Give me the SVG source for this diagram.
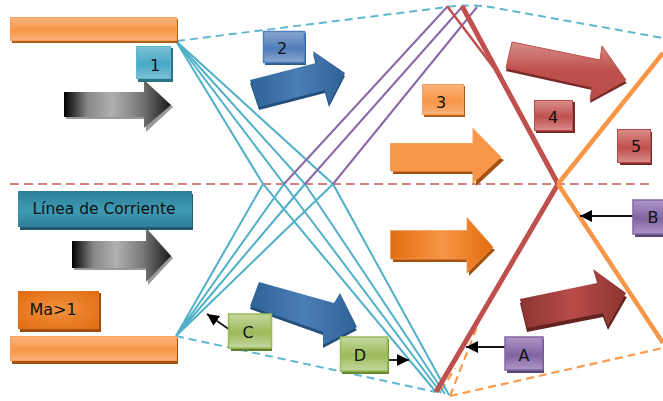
<svg xmlns="http://www.w3.org/2000/svg" width="663" height="401" viewBox="0 0 663 401">
<style>
text{font-family:"DejaVu Sans",sans-serif;fill:#111;text-anchor:middle;font-size:16px}
.teal{fill:none;stroke:#4fb0c8;stroke-width:2}
.pur{fill:none;stroke:#8a68a8;stroke-width:2}
.tdash{fill:none;stroke:#5fb8d0;stroke-width:2;stroke-dasharray:8 5}
.odash{fill:none;stroke:#f89a50;stroke-width:2.200;stroke-dasharray:8 5}
.rdash{fill:none;stroke:#d98080;stroke-width:2;stroke-dasharray:9 5}
.conn{fill:none;stroke:#111;stroke-width:1.800;marker-end:url(#ah)}
</style>
<defs>
<marker id="ah" markerUnits="userSpaceOnUse" markerWidth="13" markerHeight="13" refX="12" refY="6" orient="auto"><path d="M0 0L12 6L0 12Z" fill="#000"/></marker>
<linearGradient id="gO" x1="0" y1="0" x2="0" y2="1"><stop offset="0" stop-color="#fbb47e"/><stop offset=".55" stop-color="#f79646"/><stop offset="1" stop-color="#fab27c"/></linearGradient>
<linearGradient id="gT" x1="0" y1="0" x2="0" y2="1"><stop offset="0" stop-color="#7cc2d6"/><stop offset=".55" stop-color="#46a8c4"/><stop offset="1" stop-color="#7cc2d6"/></linearGradient>
<linearGradient id="gB" x1="0" y1="0" x2="0" y2="1"><stop offset="0" stop-color="#8aa8d0"/><stop offset=".55" stop-color="#4f7db8"/><stop offset="1" stop-color="#8aa8d0"/></linearGradient>
<linearGradient id="gR" x1="0" y1="0" x2="0" y2="1"><stop offset="0" stop-color="#d88e8c"/><stop offset=".55" stop-color="#c0504d"/><stop offset="1" stop-color="#d88e8c"/></linearGradient>
<linearGradient id="gRa" x1="0" y1="0" x2="0" y2="1"><stop offset="0" stop-color="#d88e8c"/><stop offset=".5" stop-color="#be4f4c"/><stop offset="1" stop-color="#b84c49"/></linearGradient>
<linearGradient id="gP" x1="0" y1="0" x2="0" y2="1"><stop offset="0" stop-color="#ae98c6"/><stop offset=".55" stop-color="#8064a2"/><stop offset="1" stop-color="#ae98c6"/></linearGradient>
<linearGradient id="gG" x1="0" y1="0" x2="0" y2="1"><stop offset="0" stop-color="#c4d8a0"/><stop offset=".55" stop-color="#9bbb59"/><stop offset="1" stop-color="#c4d8a0"/></linearGradient>
<linearGradient id="gL" x1="0" y1="0" x2="0" y2="1"><stop offset="0" stop-color="#2e7f98"/><stop offset=".55" stop-color="#3f9ab4"/><stop offset="1" stop-color="#2e7f98"/></linearGradient>
<radialGradient id="gM" cx=".5" cy=".5" r=".7"><stop offset="0" stop-color="#f0913f"/><stop offset="1" stop-color="#e26c10"/></radialGradient>
<linearGradient id="aK"><stop offset="0" stop-color="#000"/><stop offset=".22" stop-color="#888"/><stop offset=".45" stop-color="#b0b0b0"/><stop offset=".72" stop-color="#777"/><stop offset="1" stop-color="#1a1a1a"/></linearGradient>
<linearGradient id="aB"><stop offset="0" stop-color="#2f6296"/><stop offset=".5" stop-color="#4a7eb6"/><stop offset="1" stop-color="#2f6296"/></linearGradient>
<linearGradient id="aO"><stop offset="0" stop-color="#e26c0e"/><stop offset=".5" stop-color="#f79646"/><stop offset="1" stop-color="#e26c0e"/></linearGradient>
<linearGradient id="aD"><stop offset="0" stop-color="#8b3431"/><stop offset=".5" stop-color="#b84c49"/><stop offset="1" stop-color="#8b3431"/></linearGradient>
</defs>

<g id="connectors">
<path class="rdash" d="M10 184H650"/>
<path class="tdash" d="M177 41L447 7Q470 4 490 7L663 38"/>
<path class="tdash" d="M176 336L436 392"/>
<path class="odash" d="M450 396L663 348"/>
<path class="odash" d="M450 396L477 327"/>
<path class="odash" d="M441 391L455 368"/>
<path class="teal" d="M176 41L263 184L436 392"/>
<path class="teal" d="M176 41L284 184L441 393"/>
<path class="teal" d="M176 41L305 184L445 394"/>
<path class="teal" d="M176 41L333 184L449 395"/>
<path class="teal" d="M176 336L263 184M176 336L284 184M176 336L305 184M176 336L333 184"/>
<path class="pur" d="M284 184L447 7M305 184L462 7M333 184L477 7"/>
<path fill="none" stroke="#c0504d" stroke-width="2.500" d="M447 6L497 72"/>
<path fill="none" stroke="#c0504d" stroke-width="5" d="M462 6L558 184L436 392"/>
<path fill="none" stroke="#f79646" stroke-width="4.500" d="M558 184L663 53M558 184L663 343"/>
<path class="conn" d="M230 330L207 314"/>
<path class="conn" d="M388 360H409"/>
<path class="conn" d="M505 347H466"/>
<path class="conn" d="M633 216H580"/>
</g>

<g id="bar-top"><rect x="12" y="19" width="166" height="24" fill="#b35c14"/><rect x="10.500" y="17.500" width="166" height="23" fill="url(#gO)" stroke="#f8a25c"/></g>
<g id="bar-bottom"><rect x="12" y="338" width="166" height="26" fill="#a8500f"/><rect x="10.500" y="336.500" width="166" height="24" fill="url(#gO)" stroke="#f8a25c"/></g>

<g id="arrow-grey-1"><path d="M66 94H146V82L173 107L146 132V119H66Z" fill="#999"/><path d="M64 92H144V80L171 105L144 128V117H64Z" fill="url(#aK)"/></g>
<g id="arrow-grey-2"><path d="M74 243H148V230L173 258L148 285V270H74Z" fill="#999"/><path d="M72 241H146V228L171 256L146 282V268H72Z" fill="url(#aK)"/></g>
<g id="arrow-blue-1"><path d="M250 83L316 66L313 54L345 76L329 107L325 93L259 110Z" fill="#244f7c"/><path d="M250 80L316 63L313 51L345 73L329 104L325 90L259 107Z" fill="url(#aB)"/></g>
<g id="arrow-blue-2"><path d="M250 309L323 335V348L357 330L334 306L259 285Z" fill="#244f7c"/><path d="M259 282L334 303L340 293L357 327L323 345L323 332L250 306Z" fill="url(#aB)"/></g>
<g id="arrow-orange-1"><path d="M393 174H476V186L504 160L476 146H393Z" fill="#a8500f"/><path d="M390.500 143.500H473V128.500L501 157L473 183V171H390.500Z" fill="#f79646" stroke="#f8a25c"/></g>
<g id="arrow-orange-2"><path d="M393 262H469V276L495 250L469 233H393Z" fill="#a8500f"/><path d="M390.500 230.500H467V217.500L493 247L467 273V259H390.500Z" fill="url(#aO)" stroke="#f0a060" stroke-width=".8"/></g>
<g id="arrow-red-1"><path d="M506 71L592 90L590 103L627 83L600 60L512 45Z" fill="#7a2a28"/><path d="M512 42L600 60L602 46L626 80L590 100L592 87L506 68Z" fill="url(#gRa)" stroke="#c0504d"/></g>
<g id="arrow-red-2"><path d="M527 332L603 317L608 330L627 297L597 287L520 303Z" fill="#652320"/><path d="M520 299L597 283L593 269L626 293L608 326L603 313L527 328Z" fill="url(#aD)"/></g>

<g id="node-1"><rect x="138" y="48" width="35" height="34" fill="#2c7385"/><rect x="136.500" y="46.500" width="34" height="32" fill="url(#gT)" stroke="#5cb8d0"/><text x="155" y="71">1</text></g>
<g id="node-2"><rect x="265" y="33" width="41" height="32" fill="#2f5a8c"/><rect x="263.500" y="31.500" width="41" height="31" fill="url(#gB)" stroke="#4f81bd" stroke-width="1.500"/><text x="282" y="54">2</text></g>
<g id="node-3"><rect x="424" y="86" width="41" height="31" fill="#b35c14"/><rect x="422.500" y="84.500" width="41" height="30" fill="url(#gO)" stroke="#f8a25c"/><text x="441" y="108">3</text></g>
<g id="node-4"><rect x="536" y="102" width="39" height="31" fill="#7a2a28"/><rect x="534.500" y="100.500" width="38" height="30" fill="url(#gR)" stroke="#b84c49"/><text x="553" y="123">4</text></g>
<g id="node-5"><rect x="620" y="132" width="32" height="33" fill="#7a2a28"/><rect x="617.500" y="129.500" width="33" height="33" fill="url(#gR)" stroke="#b84c49"/><text x="636" y="152">5</text></g>
<g id="node-B"><rect x="635" y="202" width="28" height="35" fill="#5a4478"/><rect x="633" y="200" width="32" height="34" fill="url(#gP)" stroke="#8064a2" stroke-width="1.500"/><text x="653" y="223">B</text></g>
<g id="node-A"><rect x="507" y="339" width="37" height="34" fill="#5a4478"/><rect x="505" y="337" width="38" height="33" fill="url(#gP)" stroke="#8064a2" stroke-width="1.500"/><text x="524" y="361">A</text></g>
<g id="node-D"><rect x="342" y="339" width="47" height="35" fill="#6a8a30"/><rect x="340.500" y="337" width="47" height="34" fill="url(#gG)" stroke="#9bbb59" stroke-width="1.500"/><text x="360" y="361">D</text></g>
<g id="node-C"><rect x="231" y="316" width="41" height="35" fill="#5f7f2a"/><rect x="228.500" y="314" width="43" height="34" fill="url(#gG)" stroke="#9bbb59" stroke-width="1.500"/><text x="248" y="338">C</text></g>
<g id="node-linea"><rect x="20" y="194" width="173" height="36" fill="#205a6c"/><rect x="18" y="191" width="174" height="36" fill="url(#gL)"/><text x="104" y="214" style="font-size:15.500px">Línea de Corriente</text></g>
<g id="node-ma"><rect x="20" y="293" width="81" height="39" fill="#a04f0c"/><rect x="18" y="291" width="81" height="38" fill="url(#gM)"/><text x="53" y="315">Ma&gt;1</text></g>
</svg>
